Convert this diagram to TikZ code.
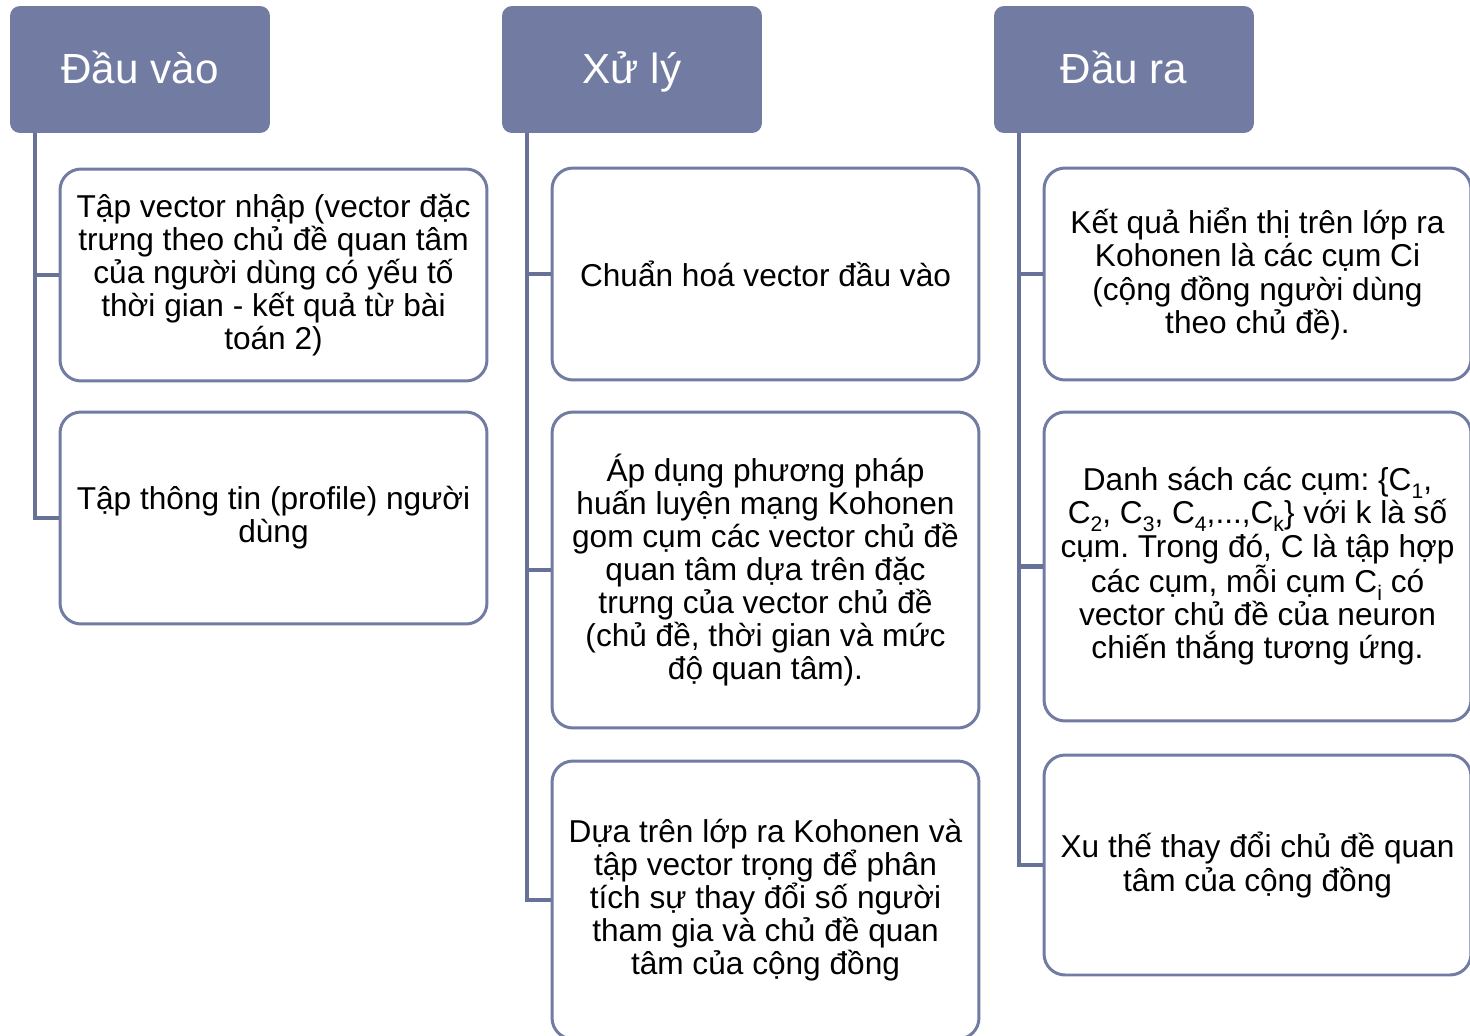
\documentclass[tikz,border=0pt]{standalone}
\usepackage{fontspec}
\setmainfont{Liberation Sans}
\usetikzlibrary{calc}
\definecolor{slate}{RGB}{114,124,162}
\definecolor{slateline}{RGB}{104,114,152}
\newcommand{\lowsub}[1]{\raisebox{-0.45ex}{\fontsize{12}{12}\selectfont #1}}
\begin{document}
\frenchspacing
\begin{tikzpicture}[x=0.02cm,y=-0.02cm,
  head/.style={fill=slate, draw=none, rounded corners=0.2cm, text=white,
    minimum width=5.2cm, minimum height=2.54cm, text height=0.66cm, text depth=0.12cm,
    font=\fontsize{24}{28}\selectfont},
  item/.style={draw=slate, line width=1.7pt, fill=white, rounded corners=0.42cm,
    minimum width=8.54cm, align=center, inner sep=0pt,
    font=\fontsize{18}{18.8}\selectfont},
  conn/.style={draw=slateline, line width=2.3pt}]
\useasboundingbox (0,0) rectangle (1470,1035);
\clip (0,0) rectangle (1470,1035);

% column headers
\node[head] (h1) at (140,69.5) {Đầu vào};
\node[head] (h2) at (632,69.5) {Xử lý};
\node[head] (h3) at (1124,69.5) {Đầu ra};

% input column
\node[item, minimum height=4.24cm] (a1) at (273.5,275) {Tập vector nhập (vector đặc\\trưng theo chủ đề quan tâm\\của người dùng có yếu tố\\thời gian - kết quả từ bài\\toán 2)};
\node[item, minimum height=4.24cm] (a2) at (273.5,518) {Tập thông tin (profile) người\\dùng};

% processing column
\node[item, minimum height=4.24cm] (b1) at (765.5,274) {Chuẩn hoá vector đầu vào};
\node[item, minimum height=6.32cm] (b2) at (765.5,570) {Áp dụng phương pháp\\huấn luyện mạng Kohonen\\gom cụm các vector chủ đề\\quan tâm dựa trên đặc\\trưng của vector chủ đề\\(chủ đề, thời gian và mức\\độ quan tâm).};
\node[item, minimum height=5.56cm] (b3) at (765.5,900) {Dựa trên lớp ra Kohonen và\\tập vector trọng để phân\\tích sự thay đổi số người\\tham gia và chủ đề quan\\tâm của cộng đồng};

% output column
\node[item, minimum height=4.24cm] (c1) at (1257.5,274) {Kết quả hiển thị trên lớp ra\\Kohonen là các cụm Ci\\(cộng đồng người dùng\\theo chủ đề).};
\node[item, minimum height=6.18cm] (c2) at (1257.5,566.5) {Danh sách các cụm: \{C\lowsub{1},\\C\lowsub{2}, C\lowsub{3}, C\lowsub{4},...,C\lowsub{k}\} với k là số\\cụm. Trong đó, C là tập hợp\\các cụm, mỗi cụm C\lowsub{i} có\\vector chủ đề của neuron\\chiến thắng tương ứng.};
\node[item, minimum height=4.4cm] (c3) at (1257.5,865) {Xu thế thay đổi chủ đề quan\\tâm của cộng đồng};

% spines from each header down to its items
\coordinate (s1) at ($(h1.south west)+(25,0)$);
\coordinate (s2) at ($(h2.south west)+(25,0)$);
\coordinate (s3) at ($(h3.south west)+(25,0)$);
\draw[conn] (s1) |- (a2.west);
\draw[conn] (s1) |- (a1.west);
\draw[conn] (s2) |- (b3.west);
\draw[conn] (s2) |- (b1.west);
\draw[conn] (s2) |- (b2.west);
\draw[conn] (s3) |- (c3.west);
\draw[conn] (s3) |- (c1.west);
\draw[conn] (s3) |- (c2.west);
\end{tikzpicture}
\end{document}
